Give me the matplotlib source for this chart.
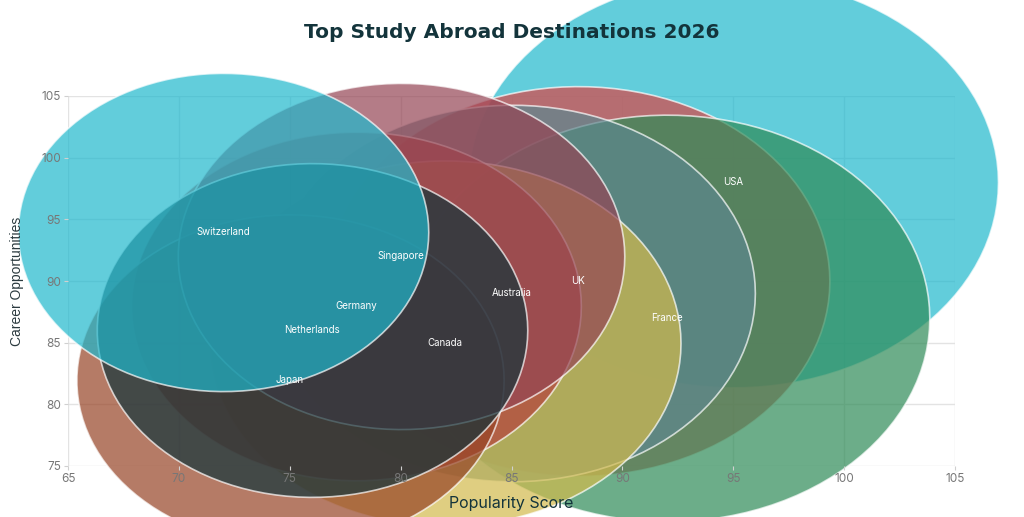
import numpy as np
import matplotlib.pyplot as plt
from matplotlib.path import Path
from matplotlib.markers import MarkerStyle

# data (drawing order = trace order)
countries = ['USA', 'UK', 'France', 'Australia', 'Canada', 'Germany',
             'Japan', 'Singapore', 'Netherlands', 'Switzerland']
popularity = [95, 88, 92, 85, 82, 78, 75, 80, 76, 72]
career = [98, 90, 87, 89, 85, 88, 82, 92, 86, 94]
bubble_size = [100, 90, 98, 84, 79, 72, 65, 71, 66, 60]
colors = ['#1FB8CD', '#DB4545', '#2E8B57', '#5D878F', '#D2BA4C',
          '#B4413C', '#964325', '#944454', '#13343B', '#1FB8CD']

x_ticks = [65, 70, 75, 80, 85, 90, 95, 100, 105]
y_ticks = [75, 80, 85, 90, 95, 100, 105]

plt.rcParams['font.family'] = ['Inter', 'DejaVu Sans']

# the picture is stretched horizontally, so bubbles are ellipses
t = np.linspace(0, 2 * np.pi, 120)
ellipse = MarkerStyle(Path(np.column_stack([np.cos(t), np.sin(t) / 1.29]), closed=True))
size_scale = 1456

fig = plt.figure(figsize=(10.24, 5.17), dpi=100)
rect = [68 / 1024, 51 / 517, 887 / 1024, 370 / 517]

# grid sits under the bubbles
ax_bg = fig.add_axes(rect, zorder=0)
ax_bg.set_xlim(65, 105)
ax_bg.set_ylim(75, 105)
ax_bg.set_xticks(x_ticks)
ax_bg.set_yticks(y_ticks)
ax_bg.grid(color='#e3e3e3', linewidth=1)
ax_bg.tick_params(length=0, labelbottom=False, labelleft=False)
for s in ax_bg.spines.values():
    s.set_visible(False)

ax = fig.add_axes(rect, zorder=1)
ax.patch.set_alpha(0)
for i, c in enumerate(countries):
    ax.scatter(popularity[i], career[i], s=bubble_size[i] * size_scale,
               marker=ellipse, color=colors[i], alpha=0.7,
               edgecolors='white', linewidths=1.2, clip_on=False, zorder=1)
for i, c in enumerate(countries):
    ax.text(popularity[i], career[i], c, color='white', fontsize=7,
            ha='center', va='center', zorder=3)

ax.set_xlim(65, 105)
ax.set_ylim(75, 105)
ax.set_xticks(x_ticks)
ax.set_yticks(y_ticks)
ax.tick_params(length=3, width=0.8, color='#d0d0d0', labelcolor='#777777',
               labelsize=8.5, pad=2)
for s in ax.spines.values():
    s.set_visible(False)

ax.set_xlabel('Popularity Score', fontsize=11.5, color='#13343B')
ax.xaxis.set_label_coords(0.5, -0.081)
ax.set_ylabel('Career Opportunities', fontsize=10, color='#2b3a3f',
              family='Liberation Sans')
ax.yaxis.set_label_coords(-0.05, 0.5)

fig.text(0.5, 1 - 32 / 517, 'Top Study Abroad Destinations 2026', fontsize=14.5,
         fontweight='bold', color='#13343B', ha='center', va='center', zorder=5,
         family='DejaVu Sans')

plt.savefig('out.png')
